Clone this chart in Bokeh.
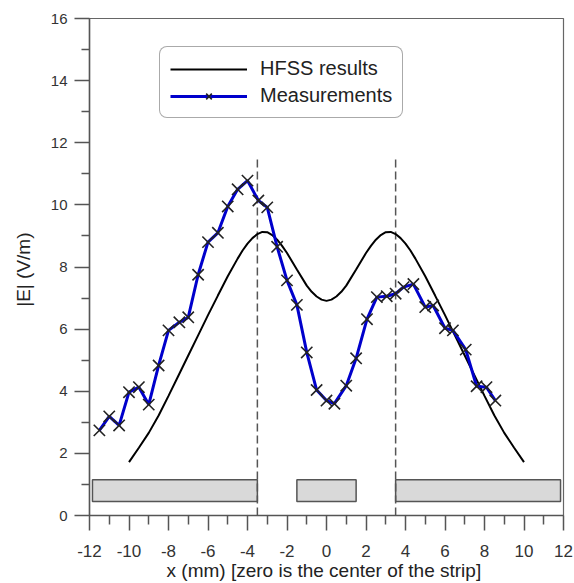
from bokeh.plotting import figure
from bokeh.models import FixedTicker, Legend, LegendItem, Range1d
from bokeh.embed import file_html
from bokeh.resources import INLINE

# ---- data ----
meas_x = [-11.5, -11.0, -10.5, -10.0, -9.5, -9.0, -8.5, -8.0, -7.45, -7.0,
          -6.5, -6.0, -5.5, -5.0, -4.5, -4.0, -3.45, -3.0, -2.5, -2.0,
          -1.5, -1.0, -0.5, 0.0, 0.4, 1.0, 1.5, 2.05, 2.55, 3.05,
          3.5, 3.9, 4.4, 5.0, 5.4, 6.0, 6.4, 7.05, 7.6, 8.1, 8.55]
meas_y = [2.74, 3.19, 2.90, 3.97, 4.13, 3.57, 4.83, 5.96, 6.22, 6.38,
          7.75, 8.80, 9.10, 9.95, 10.50, 10.78, 10.14, 9.92, 8.65, 7.57,
          6.78, 5.25, 4.04, 3.70, 3.60, 4.18, 5.06, 6.32, 7.03, 7.06,
          7.14, 7.35, 7.45, 6.71, 6.76, 6.03, 5.96, 5.34, 4.16, 4.13, 3.70]

hfss_x = [-10.0, -9.5, -9.0, -8.5, -8.0, -7.5, -7.0, -6.5, -6.0, -5.5,
          -5.0, -4.5, -4.25, -4.0, -3.75, -3.5, -3.25, -3.0, -2.75, -2.5,
          -2.25, -2.0, -1.5, -1.0, -0.75, -0.5, -0.25, 0.0, 0.25, 0.5,
          0.75, 1.0, 1.5, 2.0, 2.25, 2.5, 2.75, 3.0, 3.25, 3.5,
          3.75, 4.0, 4.25, 4.5, 5.0, 5.5, 6.0, 6.5, 7.0, 7.5,
          8.0, 8.5, 9.0, 9.5, 10.0]
hfss_y = [1.72, 2.18, 2.66, 3.22, 3.85, 4.50, 5.15, 5.80, 6.45, 7.08,
          7.70, 8.27, 8.53, 8.75, 8.93, 9.06, 9.13, 9.12, 9.03, 8.88,
          8.68, 8.45, 7.92, 7.40, 7.20, 7.05, 6.95, 6.91, 6.95, 7.05,
          7.20, 7.40, 7.92, 8.45, 8.68, 8.88, 9.03, 9.12, 9.13, 9.06,
          8.93, 8.75, 8.53, 8.27, 7.70, 7.08, 6.45, 5.80, 5.15, 4.50,
          3.85, 3.22, 2.66, 2.18, 1.72]

strip_edges = [-3.5, 3.5]
dash_top = 11.5
strip_left = [-11.85, -1.5, 3.5]
strip_right = [-3.5, 1.5, 11.85]
strip_bottom = 0.45
strip_top = 1.15

x_ticks = [-12, -10, -8, -6, -4, -2, 0, 2, 4, 6, 8, 10, 12]
x_minor = [-11, -9, -7, -5, -3, -1, 1, 3, 5, 7, 9, 11]
y_ticks = [0, 2, 4, 6, 8, 10, 12, 14, 16]
y_minor = [1, 3, 5, 7, 9, 11, 13, 15]

FONT = "Liberation Sans"

p = figure(width=574, height=583, x_range=Range1d(-12, 12), y_range=Range1d(0, 16),
           output_backend="svg", toolbar_location=None,
           min_border_left=89, min_border_right=11, min_border_top=18, min_border_bottom=68)
p.xgrid.visible = False
p.ygrid.visible = False
p.outline_line_color = "#666666"
p.outline_line_width = 1.2
p.background_fill_color = "white"
p.border_fill_color = "white"

for ax, ticks, minor in ((p.xaxis[0], x_ticks, x_minor), (p.yaxis[0], y_ticks, y_minor)):
    ax.ticker = FixedTicker(ticks=ticks, minor_ticks=minor)
    ax.major_label_overrides = {t: str(t) for t in ticks}
    ax.axis_line_color = "#555555"
    ax.axis_line_width = 1.5
    ax.major_tick_line_color = "#555555"
    ax.minor_tick_line_color = "#555555"
    ax.major_tick_line_width = 1.5
    ax.minor_tick_line_width = 1.5
    ax.major_tick_in = 0
    ax.minor_tick_in = 0
    ax.major_tick_out = 15
    ax.major_label_text_font = FONT
    ax.major_label_text_color = "#333333"
    ax.axis_label_text_font = FONT
    ax.axis_label_text_font_style = "normal"
    ax.axis_label_text_color = "#222222"
    ax.axis_label_text_font_size = "19px"

p.xaxis.minor_tick_out = 9
p.yaxis.minor_tick_out = 8
p.xaxis.major_label_text_font_size = "17px"
p.yaxis.major_label_text_font_size = "15px"
p.xaxis.major_label_standoff = 14
p.yaxis.major_label_standoff = 7
p.xaxis.axis_label = "x (mm)  [zero is the center of the strip]"
p.yaxis.axis_label = "|E|  (V/m)"
p.xaxis.axis_label_standoff = 0
p.yaxis.axis_label_standoff = 14

p.quad(left=strip_left, right=strip_right, bottom=strip_bottom, top=strip_top,
       fill_color="#d9d9d9", line_color="#555555", line_width=1.5)
p.segment(x0=strip_edges, y0=0, x1=strip_edges, y1=dash_top,
          line_color="#555555", line_width=1.5, line_dash="8 4")

hfss_r = p.line(hfss_x, hfss_y, line_color="black", line_width=2)
meas_line = p.line(meas_x, meas_y, line_color="#0000cc", line_width=3)
meas_pts = p.scatter(meas_x, meas_y, marker="x", size=16, line_color="#222222", line_width=1.6)

legend = Legend(items=[LegendItem(label="HFSS results", renderers=[hfss_r]),
                       LegendItem(label="Measurements", renderers=[meas_line, meas_pts])],
                location=(70, 397))
legend.label_text_font = FONT
legend.label_text_font_size = "20px"
legend.label_text_color = "#222222"
legend.glyph_width = 77
legend.glyph_height = 20
legend.label_height = 20
legend.label_standoff = 13
legend.padding = 10
legend.spacing = 4
legend.margin = 0
legend.border_line_color = "#555555"
legend.border_line_width = 1.2
legend.background_fill_alpha = 1
if "border_radius" in Legend.properties():
    legend.border_radius = 8
p.add_layout(legend)

open("out.html", "w").write(file_html(p, INLINE))
